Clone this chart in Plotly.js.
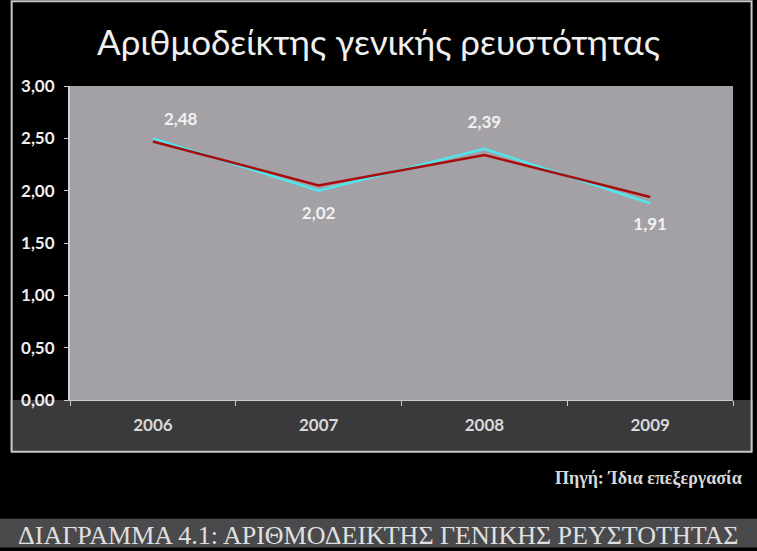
<!DOCTYPE html>
<html>
<head>
<meta charset="utf-8">
<script src="https://cdn.plot.ly/plotly-3.0.1.min.js"></script>
<style>html,body{margin:0;padding:0;background:#000;}#chart{width:757px;height:551px;}</style>
</head>
<body>
<div id="chart"></div>
<script>
// Data
const years = ['2006', '2007', '2008', '2009'];
const labelValues = [2.48, 2.02, 2.39, 1.91];      // printed data labels
const cyanLine = [2.50, 2.00, 2.40, 1.88];         // cyan line as read
const redLine = [2.47, 2.05, 2.34, 1.94];          // dark red line as read
const yTicks = [0, 0.5, 1, 1.5, 2, 2.5, 3];
const titleText = 'Αριθμοδείκτης γενικής ρευστότητας';
const sourceText = 'Πηγή: Ίδια επεξεργασία';
const captionText = 'ΔΙΑΓΡΑΜΜΑ 4.1: ΑΡΙΘΜΟΔΕΙΚΤΗΣ ΓΕΝΙΚΗΣ ΡΕΥΣΤΟΤΗΤΑΣ';

const fmt = v => v.toFixed(2).replace('.', ',');

const traces = [
  {x: years, y: cyanLine, type: 'scatter', mode: 'lines',
   line: {color: '#4fe6ee', width: 2.5}, hoverinfo: 'skip'},
  {x: years, y: redLine, type: 'scatter', mode: 'lines',
   line: {color: '#a80c0c', width: 2.5}, hoverinfo: 'skip'},
  {x: years, y: labelValues, type: 'scatter', mode: 'markers+text',
   marker: {size: [16, 26, 26, 26], color: 'rgba(0,0,0,0)', line: {width: 0, color: 'rgba(0,0,0,0)'}},
   text: labelValues.map(fmt),
   textposition: ['top right', 'bottom center', 'top center', 'bottom center'],
   textfont: {family: 'Lato, sans-serif', size: 17, color: '#f2f2f2', weight: 'bold'},
   hoverinfo: 'skip', cliponaxis: false}
];

const layout = {
  width: 757, height: 551,
  margin: {l: 70, r: 24, t: 86, b: 151},
  paper_bgcolor: '#000000',
  plot_bgcolor: '#a3a1a6',
  showlegend: false,
  separators: ',.',
  font: {family: 'Lato, sans-serif', color: '#e8e8e8'},
  title: {text: titleText, x: 0.5, xanchor: 'center', y: 0.922, yanchor: 'middle',
          font: {family: 'Lato, sans-serif', size: 35, color: '#f0f0f0'}},
  xaxis: {type: 'category', range: [-0.5, 3.5], tickson: 'boundaries',
          ticks: 'outside', ticklen: 5, tickcolor: '#cccccc',
          showgrid: false, zeroline: false, showline: true, linecolor: '#cccccc', linewidth: 1,
          tickfont: {family: 'Lato, sans-serif', size: 17, color: '#d8d8d8', weight: 'bold'},
          ticklabelstandoff: 10, fixedrange: true},
  yaxis: {range: [0, 3], tickvals: yTicks, tickformat: '.2f',
          ticks: 'outside', ticklen: 4, tickcolor: '#cccccc',
          showgrid: false, zeroline: false, showline: true, linecolor: '#d0d0d0', linewidth: 2,
          tickfont: {family: 'Lato, sans-serif', size: 17, color: '#eeeeee', weight: 'bold'},
          ticklabelstandoff: 6, fixedrange: true},
  shapes: [
    {type: 'rect', xref: 'paper', yref: 'paper', x0: -0.09, x1: 1.03, y0: -0.163, y1: 0.0,
     fillcolor: '#3a3a3c', line: {width: 0}, layer: 'below'},
    {type: 'rect', xref: 'paper', yref: 'paper', x0: -0.088, x1: 1.028, y0: -0.165, y1: 1.27,
     fillcolor: 'rgba(0,0,0,0)', line: {color: '#c8c8c8', width: 2}},
    {type: 'rect', xref: 'paper', yref: 'paper', x0: -0.11, x1: 1.04, y0: -0.47, y1: -0.378,
     fillcolor: '#4a4a4c', line: {width: 0}, layer: 'below'}
  ],
  annotations: [
    {text: sourceText, xref: 'paper', yref: 'paper', x: 1.017, y: -0.25, xanchor: 'right', yanchor: 'middle',
     showarrow: false, font: {family: 'Liberation Serif, serif', size: 18, color: '#d8d8d8', weight: 'bold'}},
    {text: captionText, xref: 'paper', yref: 'paper', x: 0.4646, y: -0.432, xanchor: 'center', yanchor: 'middle',
     showarrow: false, font: {family: 'Liberation Serif, serif', size: 26, color: '#e0e0e0'}}
  ]
};

Plotly.newPlot('chart', traces, layout, {displayModeBar: false, staticPlot: true});
</script>
</body>
</html>
